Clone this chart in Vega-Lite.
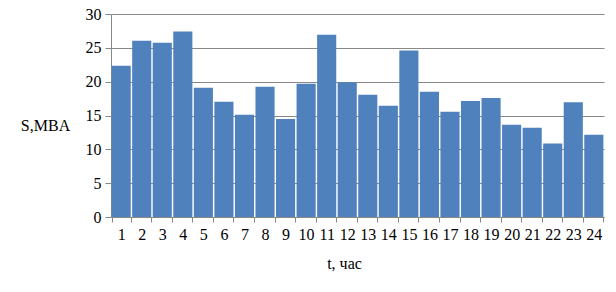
{
  "$schema": "https://vega.github.io/schema/vega-lite/v6.json",
  "width": 493,
  "height": 203,
  "autosize": {"type": "none"},
  "padding": {"left": 111, "top": 14, "right": 12, "bottom": 75},
  "background": "white",
  "data": {"values": [
    {"t": 1, "S": 22.35}, {"t": 2, "S": 26.05}, {"t": 3, "S": 25.75}, {"t": 4, "S": 27.4},
    {"t": 5, "S": 19.1}, {"t": 6, "S": 17.05}, {"t": 7, "S": 15.1}, {"t": 8, "S": 19.25},
    {"t": 9, "S": 14.5}, {"t": 10, "S": 19.7}, {"t": 11, "S": 26.95}, {"t": 12, "S": 19.9},
    {"t": 13, "S": 18.05}, {"t": 14, "S": 16.45}, {"t": 15, "S": 24.6}, {"t": 16, "S": 18.5},
    {"t": 17, "S": 15.55}, {"t": 18, "S": 17.15}, {"t": 19, "S": 17.6}, {"t": 20, "S": 13.65},
    {"t": 21, "S": 13.2}, {"t": 22, "S": 10.85}, {"t": 23, "S": 16.95}, {"t": 24, "S": 12.15}
  ]},
  "config": {
    "view": {"stroke": null},
    "font": "Liberation Serif",
    "axis": {
      "labelFont": "Liberation Serif",
      "titleFont": "Liberation Serif",
      "labelFontSize": 16,
      "titleFontSize": 16,
      "labelColor": "#000000",
      "titleColor": "#000000",
      "titleFontWeight": "normal",
      "domainColor": "#888888",
      "tickColor": "#888888",
      "gridColor": "#888888",
      "domainWidth": 1,
      "tickWidth": 1,
      "gridWidth": 1
    }
  },
  "mark": {"type": "bar", "color": "#4F81BD"},
  "encoding": {
    "x": {
      "field": "t",
      "type": "ordinal",
      "sort": null,
      "scale": {"paddingInner": 0.07, "paddingOuter": 0.03},
      "axis": {
        "title": "t, час",
        "labelAngle": 0,
        "tickBand": "extent",
        "tickSize": 5,
        "labelPadding": 4,
        "titleX": 233,
        "titleY": 46,
        "titleBaseline": "middle",
        "titleAlign": "center"
      }
    },
    "y": {
      "field": "S",
      "type": "quantitative",
      "scale": {"domain": [0, 30], "nice": false},
      "axis": {
        "title": "S,MBA",
        "values": [0, 5, 10, 15, 20, 25, 30],
        "grid": true,
        "tickSize": 6,
        "labelPadding": 4,
        "titleAngle": 0,
        "titleX": -66,
        "titleY": 111,
        "titleAlign": "center",
        "titleBaseline": "middle"
      }
    }
  }
}
